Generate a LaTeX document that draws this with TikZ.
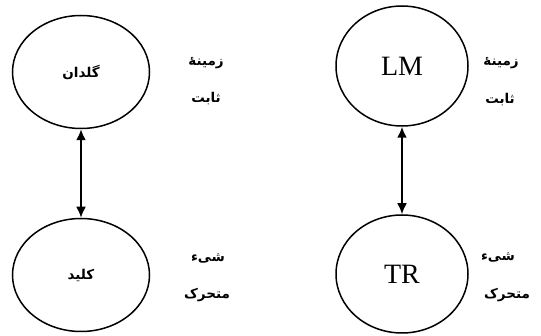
\documentclass[tikz,border=0pt]{standalone}
\usepackage{fontspec}
\setmainfont{Liberation Serif}
\newfontfamily\arabicfont[Script=Arabic]{DejaVu Sans}
\TeXXeTstate=1
\usetikzlibrary{shapes.geometric,arrows.meta}

\begin{document}
\begin{tikzpicture}[
  x=1pt, y=-1pt,
  blob/.style={ellipse, draw, line width=1.5pt, minimum width=137pt,
    minimum height=113pt, inner sep=0pt, font=\fontsize{28}{32}\selectfont},
  fa/.style={font=\arabicfont\bfseries\fontsize{13.5}{16}\selectfont, inner sep=0pt},
  link/.style={{Latex[length=11pt,width=10pt]}-{Latex[length=11pt,width=10pt]}, line width=2pt}
]
  \useasboundingbox (0,0) rectangle (541,336);

  % Persian example
  \node[blob, font=\arabicfont\bfseries\fontsize{13.5}{16}\selectfont] (vase) at (81,72) {\beginR گلدان\endR};
  \node[blob, font=\arabicfont\bfseries\fontsize{13.5}{16}\selectfont] (key) at (81,275) {\beginR کلید\endR};
  \draw[link] (vase) -- (key);
  \node[fa] (groundA) at (206,63) {\beginR زمینهٔ\endR};
  \node[fa] (fixedA) at (206,99) {\beginR ثابت\endR};
  \node[fa] (objA) at (208,258) {\beginR شیء\endR};
  \node[fa] (movA) at (207,295) {\beginR متحرک\endR};

  % LM / TR
  \node[blob, minimum width=132pt, minimum height=120pt] (lm) at (402,66) {LM};
  \node[blob, minimum width=132pt, minimum height=118pt] (tr) at (402,274) {TR};
  \draw[link] (lm) -- (tr);
  \node[fa] (groundB) at (501,63) {\beginR زمینهٔ\endR};
  \node[fa] (fixedB) at (500,100) {\beginR ثابت\endR};
  \node[fa] (objB) at (498,257) {\beginR شیء\endR};
  \node[fa] (movB) at (507,295) {\beginR متحرک\endR};
\end{tikzpicture}
\end{document}
